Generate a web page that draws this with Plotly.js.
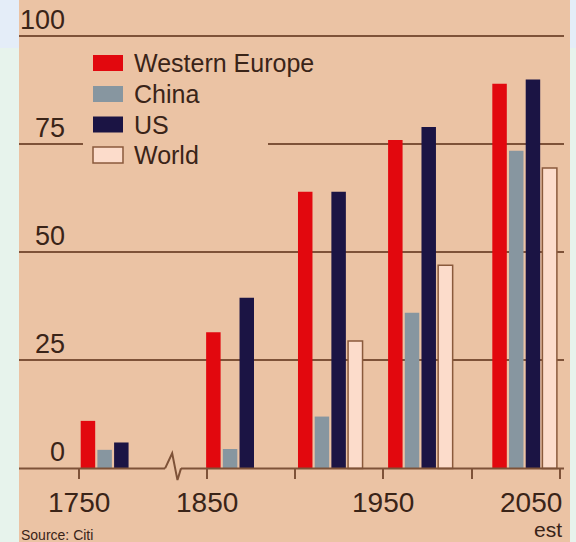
<!DOCTYPE html>
<html>
<head>
<meta charset="utf-8">
<script src="https://cdn.plot.ly/plotly-3.0.1.min.js"></script>
<style>
  html, body { margin: 0; padding: 0; width: 576px; height: 542px; overflow: hidden;
    background: linear-gradient(to bottom, #E4EDF8 0px, #E4EDF8 48px, #E7F3EC 48px, #E7F3EC 542px); }
  #chart { position: absolute; left: 19px; top: 0; width: 551px; height: 542px; }
</style>
</head>
<body>
<div id="chart"></div>
<script>
// ---- data ----
const categories = ['Western Europe', 'China', 'US', 'World'];
const periods = [1769, 1868, 1920, 1971, 2030];
const westernEurope = [11, 31.5, 64, 76, 89];
const china = [4.3, 4.5, 12, 36, 73.5];
const us = [6, 39.5, 64, 79, 90];
const world = [null, null, 29.5, 47, 69.5];
const tickYears = [1750, 1850, 1900, 1950, 2000, 2050];
const tickLabels = ['1750', '1850', '', '1950', '', '2050'];
const yTickVals = [0, 25, 50, 75, 100];
const yTickLabels = ['0', '25', '50', '75', '100'];
const sourceText = 'Source: Citi';
const estText = 'est';

// ---- styling ----
const colors = ['#E2080E', '#8796A0', '#1B1444', '#FCDCCB'];
const outline = ['rgba(0,0,0,0)', 'rgba(0,0,0,0)', 'rgba(0,0,0,0)', '#8A5A3C'];
const seriesValues = [westernEurope, china, us, world];
const bg = '#EBC3A4';
const ink = '#3A2418';
const rule = '#7E5238';
const FONT = '"Liberation Sans", Arial, sans-serif';

// axis break: years before the break are shifted right
const breakShift = 28;
const axisPos = y => (y < 1800 ? y + breakShift : y);
const breakAt = 1831;

const xRange = [1743.8, 2052.3];
const yRange = [-7.31, 108.4];

const pitch = 9.45;   // slot per bar (axis units)
const barW = 8.2;

const traces = categories.map((name, i) => ({
  type: 'bar',
  name: name,
  x: periods.map(axisPos),
  y: seriesValues[i],
  width: barW,
  offset: (i - 2) * pitch + (pitch - barW) / 2,
  marker: { color: colors[i], line: { color: outline[i], width: i === 3 ? 1.5 : 0 } },
  showlegend: false,
  hoverinfo: 'skip'
}));

const shapes = [];
// mask where the legend interrupts the 75 gridline
shapes.push({ type: 'rect', layer: 'above', xref: 'paper', yref: 'y', x0: 0.1174, x1: 0.4569, y0: 73, y1: 77,
  fillcolor: bg, line: { width: 0 } });
// baseline with break
shapes.push({ type: 'line', xref: 'x', yref: 'y', x0: xRange[0], x1: breakAt - 4.5, y0: 0, y1: 0,
  line: { color: rule, width: 2 } });
shapes.push({ type: 'line', xref: 'x', yref: 'y', x0: breakAt + 4.5, x1: xRange[1], y0: 0, y1: 0,
  line: { color: rule, width: 2 } });
shapes.push({ type: 'path', xref: 'x', yref: 'y',
  path: `M ${breakAt - 4.5},0 L ${breakAt - 0.5},3.5 L ${breakAt + 2.5},-2.7 L ${breakAt + 4.5},0`,
  line: { color: rule, width: 2 } });

const annotations = [];
// y tick labels (sit above their gridlines)
yTickVals.forEach((v, i) => {
  annotations.push({ xref: 'paper', yref: 'y', x: 0, y: v, xanchor: 'right', yanchor: 'middle',
    xshift: 48, yshift: 16, text: yTickLabels[i], showarrow: false,
    font: { family: FONT, size: 27, color: ink } });
});
// x tick labels
tickYears.forEach((yr, i) => {
  if (!tickLabels[i]) return;
  const last = i === tickYears.length - 1;
  annotations.push({ xref: 'x', yref: 'y', x: axisPos(yr), y: 0, xanchor: last ? 'right' : 'center',
    yanchor: 'top', xshift: last ? 4 : 0, yshift: -17, text: tickLabels[i], showarrow: false,
    font: { family: FONT, size: 28, color: ink } });
});
annotations.push({ xref: 'x', yref: 'y', x: axisPos(2050), y: 0, xanchor: 'right', yanchor: 'top',
  xshift: 4, yshift: -48, text: estText, showarrow: false, font: { family: FONT, size: 21, color: ink } });
annotations.push({ xref: 'paper', yref: 'paper', x: 0, y: 1 - 525 / 500, xanchor: 'left', yanchor: 'top',
  xshift: 0, text: sourceText, showarrow: false, font: { family: FONT, size: 14, color: ink } });

// manual legend
const legX0 = 0.1358, legX1 = 0.1908, legTextX = 0.2074;
const rowCenters = [63, 94, 124.5, 155];
categories.forEach((name, i) => {
  const yc = 1 - rowCenters[i] / 500;
  const h = 8 / 500;
  shapes.push({ type: 'rect', layer: 'above', xref: 'paper', yref: 'paper', x0: legX0, x1: legX1, y0: yc - h, y1: yc + h,
    fillcolor: colors[i], line: { color: i === 3 ? outline[i] : colors[i], width: i === 3 ? 1.5 : 0 } });
  annotations.push({ xref: 'paper', yref: 'paper', x: legTextX, y: yc, xanchor: 'left', yanchor: 'middle',
    text: name, showarrow: false, font: { family: FONT, size: 25, color: ink } });
});

const layout = {
  width: 551, height: 542,
  margin: { l: 0, r: 6, t: 0, b: 42, pad: 0 },
  paper_bgcolor: bg, plot_bgcolor: bg,
  barmode: 'overlay',
  font: { family: FONT, color: ink },
  xaxis: {
    range: xRange, anchor: 'free', position: (0 - yRange[0]) / (yRange[1] - yRange[0]),
    showgrid: false, zeroline: false, showline: false,
    tickmode: 'array', tickvals: tickYears.map(axisPos), ticktext: tickYears.map(() => ''),
    ticks: 'outside', ticklen: 10, tickwidth: 2, tickcolor: rule, showticklabels: false, fixedrange: true
  },
  yaxis: {
    range: yRange, showgrid: true, gridcolor: rule, gridwidth: 2, zeroline: false, showline: false,
    tickmode: 'array', tickvals: yTickVals.filter(v => v > 0), showticklabels: false, ticks: '', fixedrange: true
  },
  shapes: shapes,
  annotations: annotations
};

Plotly.newPlot('chart', traces, layout, { staticPlot: true, displayModeBar: false });
</script>
</body>
</html>
